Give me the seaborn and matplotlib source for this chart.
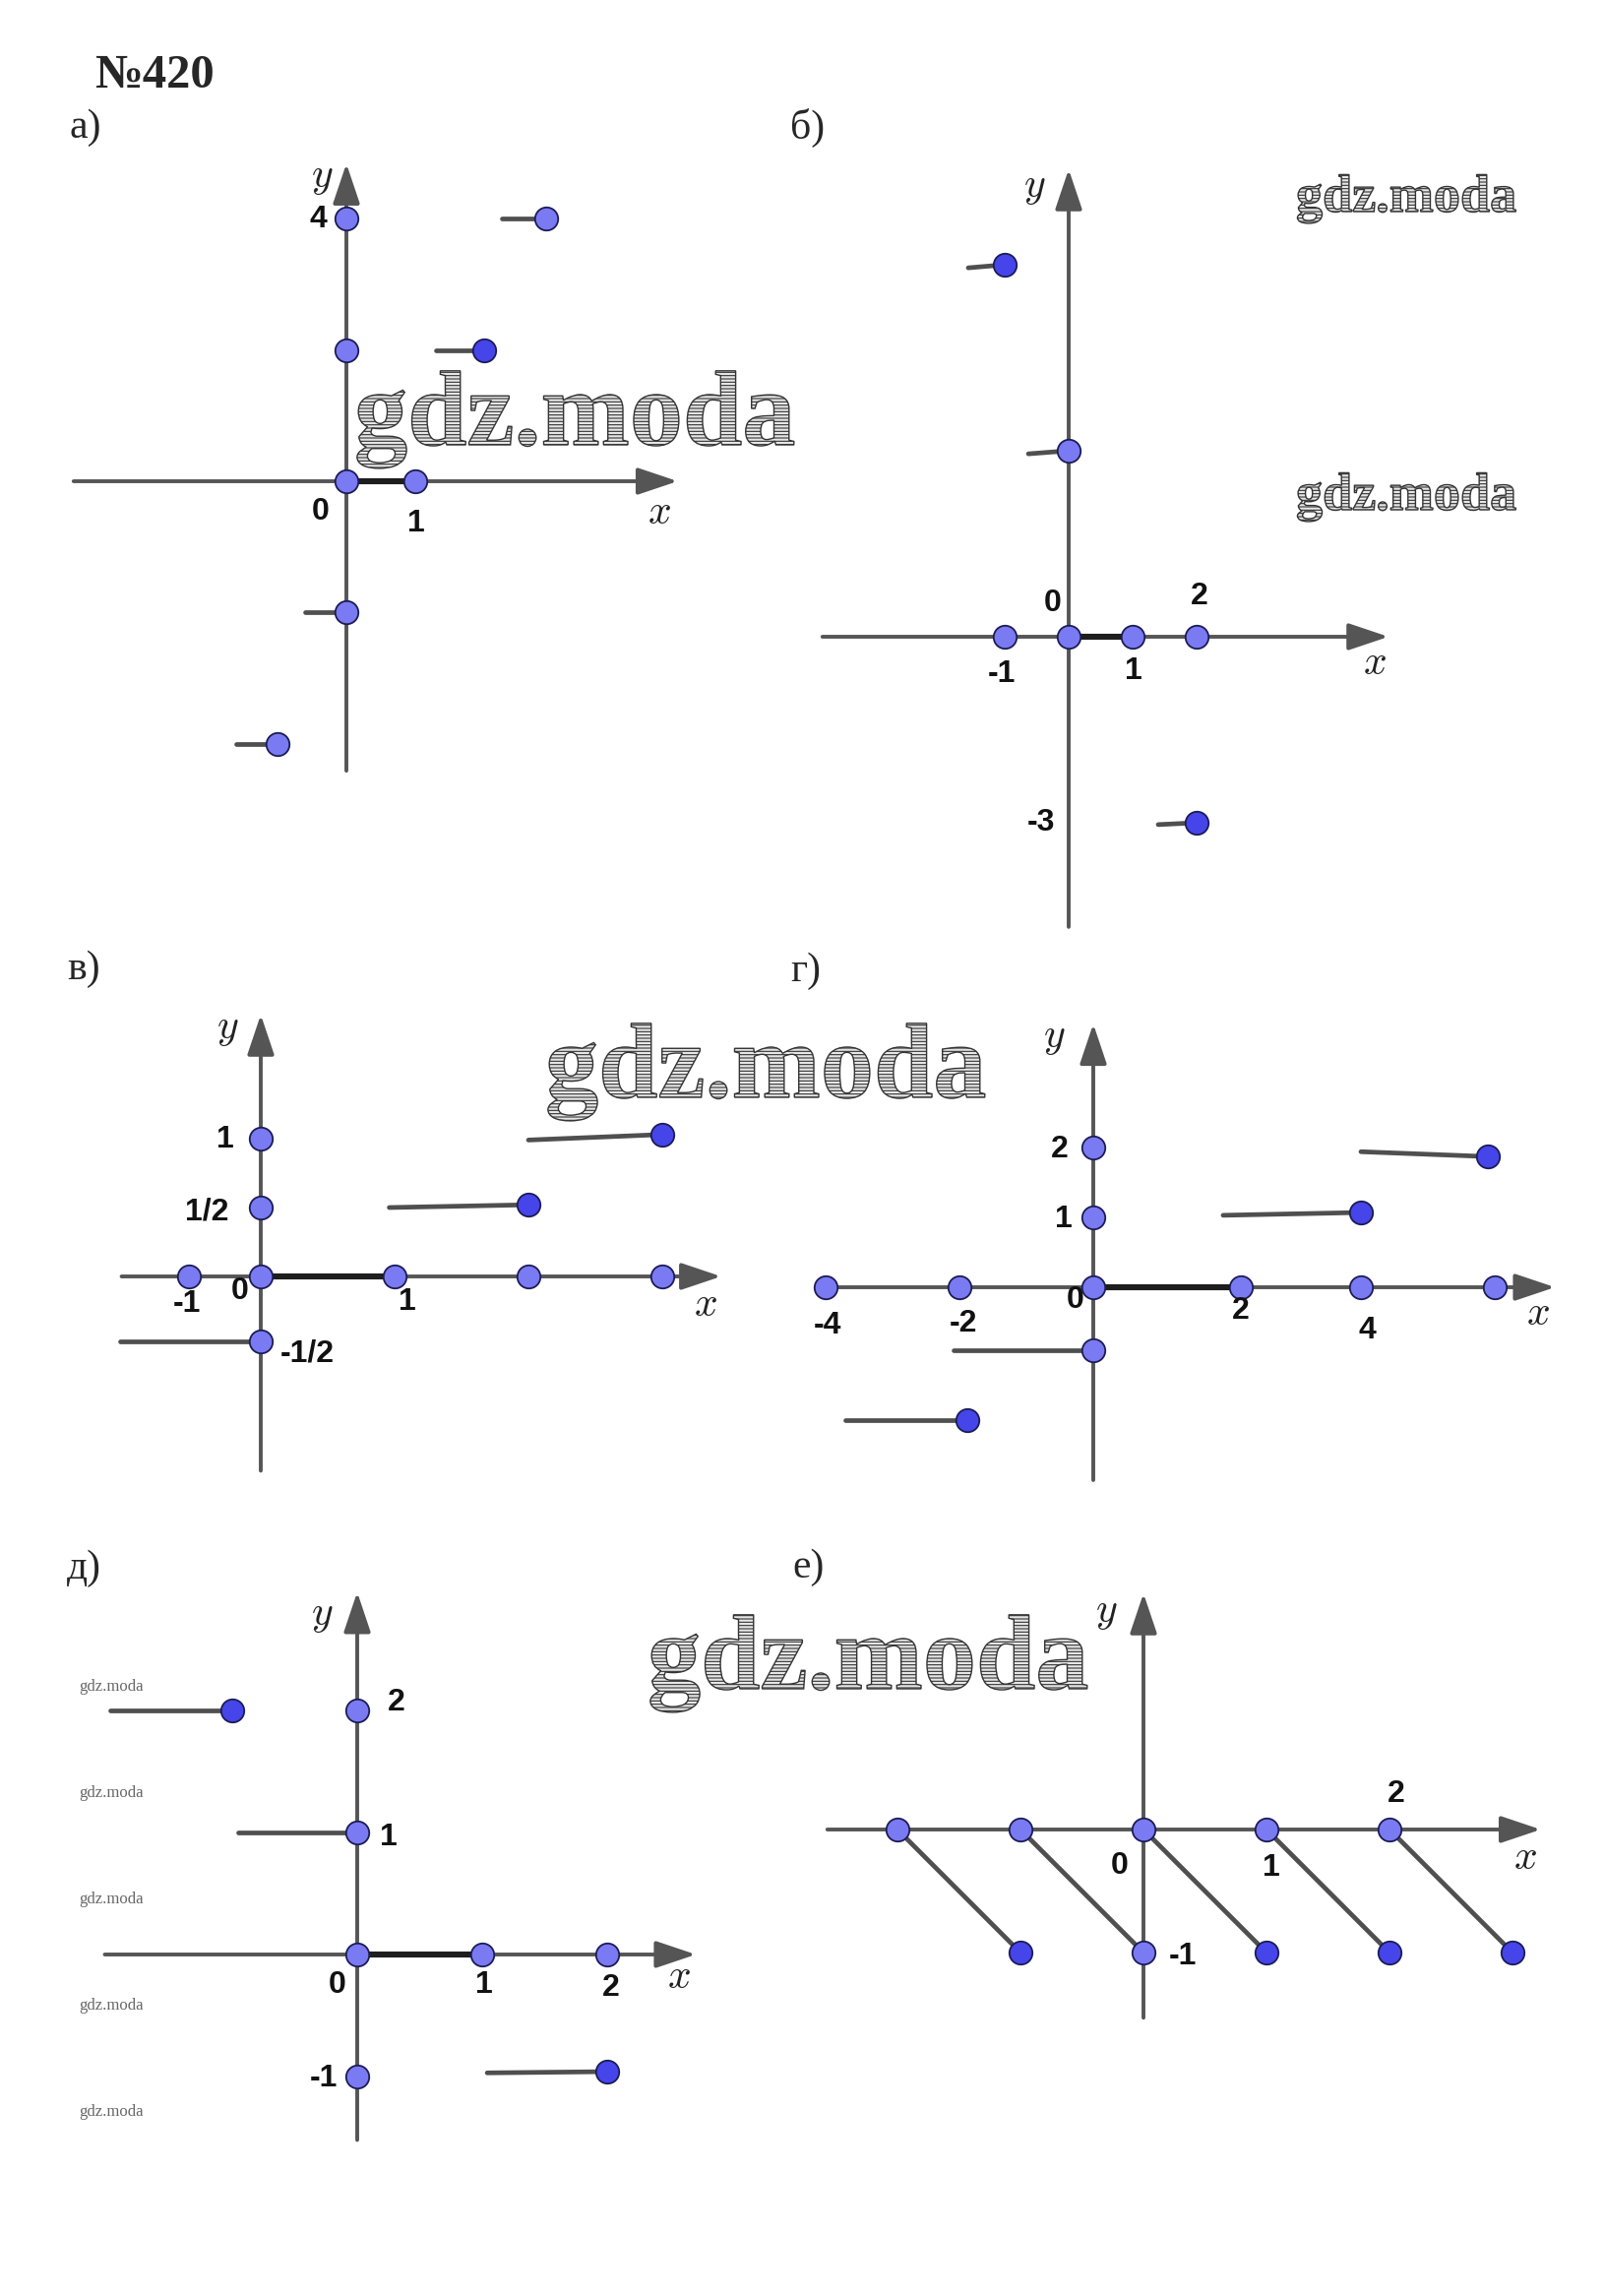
import pandas as pd
import matplotlib.pyplot as plt
import matplotlib.patheffects as pe
import seaborn as sns

sns.set_style("white")
plt.rcParams["mathtext.fontset"] = "cm"
plt.rcParams["hatch.linewidth"] = 0.8

W, H = 1630, 2333

# ---- data ----
# а)
A_PTS_X = [0, 1, 0, 0, 0, 2.9, -1]
A_PTS_Y = [0, 0, 4, 2, -2, 4, -4]
A_END_X = [2]
A_END_Y = [2]
A_SEG_X0 = [1.3, 2.26, -1.6, -0.6]
A_SEG_X1 = [2, 2.9, -1, 0]
A_SEG_Y0 = [2, 4, -4, -2]
A_SEG_Y1 = [2, 4, -4, -2]
A_BOLD = [0, 1]
A_LABELS = ["4", "0", "1"]

# б)
B_PTS_X = [-1, 0, 1, 2, 0]
B_PTS_Y = [0, 0, 0, 0, 3]
B_END_X = [-1, 2]
B_END_Y = [6, -3]
B_SEG_X0 = [-1.57, -0.63, 1.4]
B_SEG_X1 = [-1, 0, 2]
B_SEG_Y0 = [5.95, 2.95, -3.03]
B_SEG_Y1 = [6, 3, -3]
B_BOLD = [0, 1]
B_LABELS = ["0", "2", "-1", "1", "-3"]

# в)
V_PTS_X = [-0.54, 0, 1, 2, 3, 0, 0, 0]
V_PTS_Y = [0, 0, 0, 0, 0, 1, 0.5, -0.47]
V_END_X = [3, 2]
V_END_Y = [1.03, 0.52]
V_SEG_X0 = [2.0, 0.96, -1.05]
V_SEG_X1 = [3, 2, 0]
V_SEG_Y0 = [0.99, 0.5, -0.47]
V_SEG_Y1 = [1.03, 0.52, -0.47]
V_BOLD = [0, 1]
V_LABELS = ["1", "1/2", "0", "-1", "1", "-1/2"]

# г)
G_PTS_X = [-4, -2, 0, 2.2, 4, 6, 0, 0, 0]
G_PTS_Y = [0, 0, 0, 0, 0, 0, 2, 1, -0.9]
G_END_X = [5.9, 4, -1.88]
G_END_Y = [1.87, 1.07, -1.9]
G_SEG_X0 = [4, 1.94, -2.09, -3.7]
G_SEG_X1 = [5.9, 4, 0, -1.88]
G_SEG_Y0 = [1.94, 1.03, -0.9, -1.9]
G_SEG_Y1 = [1.87, 1.07, -0.9, -1.9]
G_BOLD = [0, 2.2]
G_LABELS = ["2", "1", "0", "-4", "-2", "2", "4"]

# д)
D_PTS_X = [0, 1, 2, 0, 0, 0]
D_PTS_Y = [0, 0, 0, 2, 1, -1]
D_END_X = [-1, 2]
D_END_Y = [2, -0.96]
D_SEG_X0 = [-1.98, -0.95, 1.04]
D_SEG_X1 = [-1, 0, 2]
D_SEG_Y0 = [2, 1, -0.97]
D_SEG_Y1 = [2, 1, -0.96]
D_BOLD = [0, 1]
D_LABELS = ["2", "1", "0", "1", "2", "-1"]

# е)
E_PTS_X = [-2, -1, 0, 1, 2, 0]
E_PTS_Y = [0, 0, 0, 0, 0, -1]
E_END_X = [-1, 1, 2, 3]
E_END_Y = [-1, -1, -1, -1]
E_SEG_X0 = [-2, -1, 0, 1, 2]
E_SEG_X1 = [-1, 0, 1, 2, 3]
E_SEG_Y0 = [0, 0, 0, 0, 0]
E_SEG_Y1 = [-1, -1, -1, -1, -1]
E_BOLD = []
E_LABELS = ["0", "1", "2", "-1"]

PANEL_TITLES = ["а)", "б)", "в)", "г)", "д)", "е)"]
WATERMARK = "gdz.moda"

# ---- styling ----
LIGHT = "#7a7af2"
DARK = "#4545ea"
EDGE = "#1c1c55"
AXIS_C = "#555555"
SEG_C = "#4f4f4f"

fig = plt.figure(figsize=(W / 100, H / 100), dpi=100)


def px(x, y):
    return x / W, 1 - y / H


def make_panel(ox, oy, ux, uy, xr, yr):
    xlim = (xr[0] - 0.8, xr[1] + 0.8)
    ylim = (yr[0] - 0.8, yr[1] + 0.8)
    left = (ox + xlim[0] * ux) / W
    right = (ox + xlim[1] * ux) / W
    top = 1 - (oy - ylim[1] * uy) / H
    bottom = 1 - (oy - ylim[0] * uy) / H
    ax = fig.add_axes([left, bottom, right - left, top - bottom])
    ax.set_xlim(xlim)
    ax.set_ylim(ylim)
    ax.axis("off")
    arrow = dict(arrowstyle="-|>,head_length=1.25,head_width=0.42", mutation_scale=20,
                 lw=2.8, color=AXIS_C, shrinkA=0, shrinkB=0)
    ax.annotate("", xy=(xr[1], 0), xytext=(xr[0], 0), arrowprops=arrow, annotation_clip=False)
    ax.annotate("", xy=(0, yr[1]), xytext=(0, yr[0]), arrowprops=arrow, annotation_clip=False)
    return ax


def draw(ax, pts_x, pts_y, end_x, end_y, x0, x1, y0, y1, bold):
    seg = pd.DataFrame({
        "x": [v for pair in zip(x0, x1) for v in pair],
        "y": [v for pair in zip(y0, y1) for v in pair],
        "seg": [i for i in range(len(x0)) for _ in range(2)],
    })
    sns.lineplot(data=seg, x="x", y="y", units="seg", estimator=None, sort=False,
                 color=SEG_C, lw=3.4, ax=ax, legend=False, zorder=3)
    if bold:
        sns.lineplot(x=bold, y=[0, 0], color="#1e1e1e", lw=4.4, ax=ax, zorder=3)
    sns.scatterplot(x=pts_x, y=pts_y, s=285, color=LIGHT, edgecolor=EDGE,
                    linewidth=1.3, ax=ax, zorder=5, clip_on=False)
    sns.scatterplot(x=end_x, y=end_y, s=285, color=DARK, edgecolor=EDGE,
                    linewidth=1.3, ax=ax, zorder=5, clip_on=False)
    ax.set_xlabel("")
    ax.set_ylabel("")


def num(x, y, s, size=23):
    fig.text(*px(x, y), s, fontsize=size, fontfamily="Liberation Sans", fontweight="bold",
             color="#111111", ha="center", va="center")


def var(x, y, s):
    fig.text(*px(x, y), "$" + s + "$", fontsize=30, color="#222222", ha="center", va="center")


def mark(x, y, size):
    fig.text(*px(x, y), WATERMARK, fontsize=size, fontfamily="Liberation Serif",
             fontweight="bold", ha="left", va="baseline", color="#9a9a9a",
             path_effects=[pe.PathPatchEffect(facecolor="#e6e6e6", edgecolor="#333333",
                                              hatch="-----", linewidth=1.0)])


def tiny_mark(x, y):
    fig.text(*px(x, y), WATERMARK, fontsize=12, fontfamily="Liberation Serif",
             ha="left", va="baseline", color="#666666")


# а)
ax = make_panel(352, 489, 70, 66.7, (-3.96, 4.81), (-4.41, 4.84))
draw(ax, A_PTS_X, A_PTS_Y, A_END_X, A_END_Y, A_SEG_X0, A_SEG_X1, A_SEG_Y0, A_SEG_Y1, A_BOLD)
for s, (x, y) in zip(A_LABELS, [(323, 223), (326, 520), (423, 532)]):
    num(x, y, s)
var(327, 179, "y")
var(670, 520, "x")

# б)
ax = make_panel(1086, 647, 65, 63, (-3.85, 5.0), (-4.68, 7.54))
draw(ax, B_PTS_X, B_PTS_Y, B_END_X, B_END_Y, B_SEG_X0, B_SEG_X1, B_SEG_Y0, B_SEG_Y1, B_BOLD)
for s, (x, y) in zip(B_LABELS, [(1070, 613), (1219, 606), (1018, 685), (1152, 682), (1058, 836)]):
    num(x, y, s)
var(1051, 189, "y")
var(1397, 673, "x")

# в)
ax = make_panel(265, 1297, 136, 140, (-1.04, 3.44), (-1.41, 1.9))
draw(ax, V_PTS_X, V_PTS_Y, V_END_X, V_END_Y, V_SEG_X0, V_SEG_X1, V_SEG_Y0, V_SEG_Y1, V_BOLD)
for s, (x, y) in zip(V_LABELS, [(229, 1158), (210, 1232), (244, 1312), (190, 1325),
                                 (414, 1323), (312, 1375)]):
    num(x, y, s)
var(231, 1044, "y")
var(717, 1325, "x")

# г)
ax = make_panel(1111, 1308, 68, 71, (-4.13, 6.9), (-2.76, 3.77))
draw(ax, G_PTS_X, G_PTS_Y, G_END_X, G_END_Y, G_SEG_X0, G_SEG_X1, G_SEG_Y0, G_SEG_Y1, G_BOLD)
for s, (x, y) in zip(G_LABELS, [(1077, 1168), (1081, 1239), (1093, 1321), (841, 1347),
                                 (979, 1345), (1261, 1332), (1389, 1352)]):
    num(x, y, s)
var(1071, 1053, "y")
var(1563, 1334, "x")

# д)
ax = make_panel(363, 1986, 127, 124, (-2.02, 2.71), (-1.52, 2.97))
draw(ax, D_PTS_X, D_PTS_Y, D_END_X, D_END_Y, D_SEG_X0, D_SEG_X1, D_SEG_Y0, D_SEG_Y1, D_BOLD)
for s, (x, y) in zip(D_LABELS, [(403, 1730), (395, 1867), (343, 2017), (492, 2017),
                                 (621, 2020), (329, 2112)]):
    num(x, y, s)
var(327, 1640, "y")
var(690, 2008, "x")

# е)
ax = make_panel(1162, 1859, 125, 125, (-2.57, 3.23), (-1.53, 1.92))
draw(ax, E_PTS_X, E_PTS_Y, E_END_X, E_END_Y, E_SEG_X0, E_SEG_X1, E_SEG_Y0, E_SEG_Y1, E_BOLD)
for s, (x, y) in zip(E_LABELS, [(1138, 1896), (1292, 1898), (1419, 1823), (1202, 1988)]):
    num(x, y, s)
var(1124, 1637, "y")
var(1550, 1887, "x")

# headings
fig.text(*px(96, 77), "№420", fontsize=35, fontfamily="Liberation Serif",
         fontweight="bold", ha="left", va="center")
for s, (x, y) in zip(PANEL_TITLES, [(70, 130), (803, 130), (68, 985),
                                    (803, 987), (68, 1594), (805, 1593)]):
    fig.text(*px(x, y), s, fontsize=30, fontfamily="Liberation Serif", ha="left", va="center")

# watermarks
mark(360, 452, 78)
mark(554, 1115, 78)
mark(658, 1716, 78)
mark(1317, 215, 39)
mark(1317, 518, 39)
for y in [1718, 1826, 1934, 2042, 2150]:
    tiny_mark(80, y)

fig.savefig("out.png", dpi=100, facecolor="white")
